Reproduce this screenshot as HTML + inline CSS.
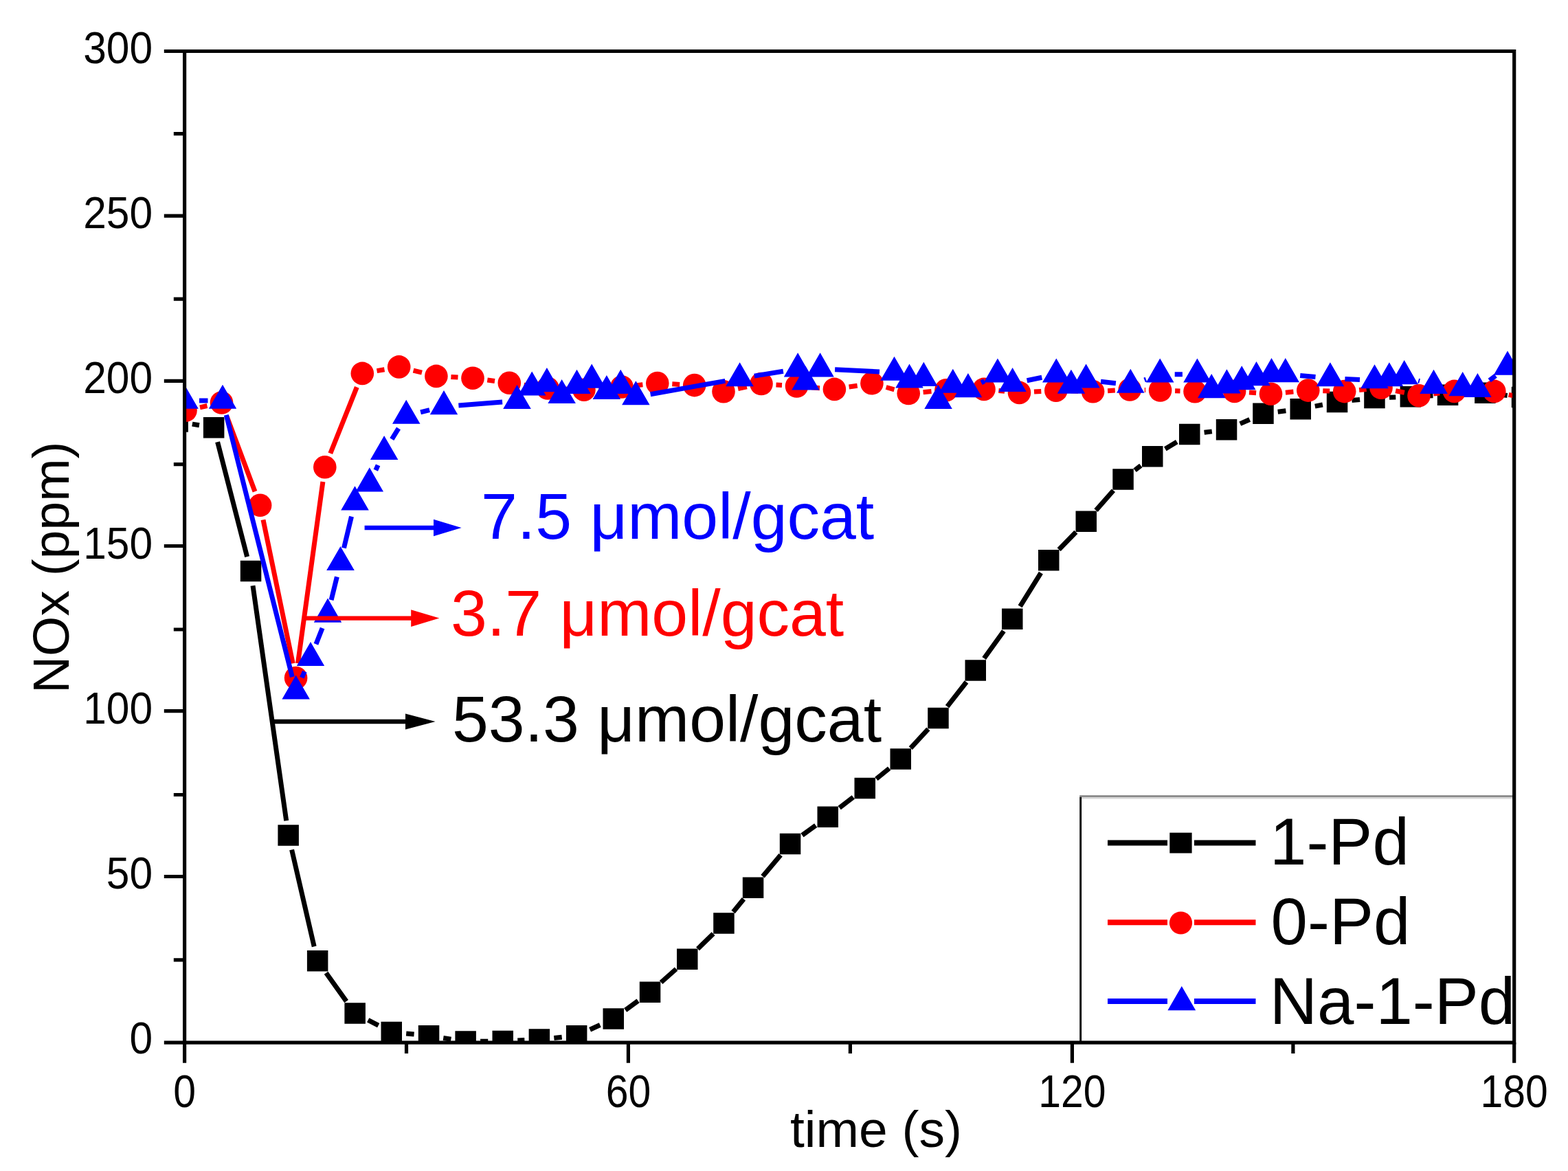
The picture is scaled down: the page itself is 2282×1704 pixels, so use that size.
<!DOCTYPE html>
<html><head><meta charset="utf-8"><title>NOx vs time</title>
<style>html,body{margin:0;padding:0;background:#fff;}body{width:2282px;height:1704px;overflow:hidden;}svg{display:block;}</style>
</head><body>
<svg width="2282" height="1704" viewBox="0 0 2282 1704">
<rect width="2282" height="1704" fill="#fff"/>
<defs><clipPath id="pc"><rect x="268.5" y="74.5" width="1935.2" height="1442.6"/></clipPath></defs>
<g clip-path="url(#pc)">
<path d="M279.8 617.1L290 618.8M316.6 643.2L359.6 810.2M368 852.3L416.7 1194.3M424.6 1236.5L457.2 1377.4M474.6 1415.8L504.1 1457.1M535.7 1484.4L550.7 1492.2M591.2 1504.1L602.6 1505.1M645.2 1510.5L656.4 1512.3M699.1 1515.3L710.3 1515.2M753.3 1514L763.4 1513.5M806.3 1510.5L817.7 1509.3M858.6 1498.2L873.3 1491.5M910.2 1469.8L928.6 1456.4M962.1 1429.5L984.1 1410M1015.5 1380.7L1038.1 1358.7M1067.1 1327L1082.4 1308.3M1110 1275.3L1136.1 1244.3M1167.5 1215.4L1187.2 1201.2M1221.7 1175.6L1241.8 1160.1M1275.4 1133.4L1294.2 1118.1M1325.3 1088.7L1350.9 1060.9M1378.6 1028.1L1406.5 992.5M1432.2 958L1460.8 918.2M1484.6 882.4L1514.9 833.6M1541.1 799.8L1565.9 774.3M1595 742.6L1620.4 713.7M1651.6 684.3L1660.3 677.4M1695.8 653.2L1712.8 643M1752.6 629.3L1763.8 627.9M1804.8 616.6L1818.7 610.5M1859.7 599.2L1871.4 597.8M1913.8 591.1L1924.9 589M1967.4 582.6L1979.1 581.4M2022 578.3L2031.3 578M2074.3 576.2L2085.5 575.7M2128.5 573.4L2139.8 572.8M2182.6 574.1L2193.7 575.5" stroke="#000" stroke-width="7" fill="none"/>
<path d="M243.4 598.2h30.5v30.5h-30.5zM295.9 607.1h30.5v30.5h-30.5zM349.8 815.8h30.5v30.5h-30.5zM404.4 1200.3h30.5v30.5h-30.5zM446.9 1383h30.5v30.5h-30.5zM501.4 1459.3h30.5v30.5h-30.5zM554.5 1486.8h30.5v30.5h-30.5zM608.8 1492h30.5v30.5h-30.5zM662.4 1500.3h30.5v30.5h-30.5zM716.5 1499.7h30.5v30.5h-30.5zM769.6 1497.3h30.5v30.5h-30.5zM823.9 1492h30.5v30.5h-30.5zM877.5 1467.2h30.5v30.5h-30.5zM930.8 1428.5h30.5v30.5h-30.5zM985 1380.5h30.5v30.5h-30.5zM1038.2 1328.3h30.5v30.5h-30.5zM1080.8 1276.5h30.5v30.5h-30.5zM1134.8 1212.7h30.5v30.5h-30.5zM1189.5 1173.5h30.5v30.5h-30.5zM1243.5 1131.8h30.5v30.5h-30.5zM1295.5 1089.2h30.5v30.5h-30.5zM1350.2 1029.8h30.5v30.5h-30.5zM1404.5 960.2h30.5v30.5h-30.5zM1458 885.5h30.5v30.5h-30.5zM1511 800h30.5v30.5h-30.5zM1565.5 743.5h30.5v30.5h-30.5zM1619.3 682.2h30.5v30.5h-30.5zM1662 649h30.5v30.5h-30.5zM1716 616.8h30.5v30.5h-30.5zM1769.8 610h30.5v30.5h-30.5zM1823.2 586.6h30.5v30.5h-30.5zM1877.5 579.9h30.5v30.5h-30.5zM1930.8 569.8h30.5v30.5h-30.5zM1985.2 563.8h30.5v30.5h-30.5zM2037.6 562h30.5v30.5h-30.5zM2091.8 559.4h30.5v30.5h-30.5zM2146.1 556.4h30.5v30.5h-30.5zM2199.8 562.8h30.5v30.5h-30.5z" fill="#000"/>
<path d="M291 592.8L301.5 590.5M330.1 606.1L371 715.2M383 756.4L426.2 965.4M433.5 965.2L469.9 701.1M480.8 659.8L519.3 563.4M548.5 539.6L559.5 537.7M601.6 539.1L614 542.2M656.4 548.5L666.5 549.1M709.3 553L720 554.5M762.6 560.2L775.7 562.1M818.5 565.9L828.4 566.3M871.3 565.6L883.6 564.6M926.4 560.8L935.4 559.8M978.3 558.8L989.2 559.4M1074.1 565.5L1086.9 562.8M1129.5 560L1138 560.5M1180.9 563.7L1193 564.7M1235.6 563L1247.7 561.2M1289.6 563.5L1301.5 566.8M1343.6 570.7L1355.5 569.6M1398.4 567.3L1410.5 566.9M1453.4 568.5L1462.1 569.3M1505 570.1L1515.3 569.5M1558.3 568.8L1569.1 569.2M1612.1 568.7L1622.8 568.1M1665.8 567.5L1667.1 567.5M1710.1 568.8L1717.5 569M1760.5 569.7L1775.1 569.5M1818 570.9L1828.1 571.7M1870.9 571.2L1882.4 570.1M1925.3 568.7L1935.2 569M1978.1 567.5L1988.6 566.4M2031.1 568.7L2043.9 571.3M2086.3 573.1L2095.2 572M2138 569.4L2153.3 569.4M2195.7 574.3L2208.1 577.1" stroke="#f00" stroke-width="7" fill="none"/>
<circle cx="270" cy="597.3" r="16.8" fill="#f00"/><circle cx="322.5" cy="586" r="16.8" fill="#f00"/><circle cx="378.6" cy="735.3" r="16.8" fill="#f00"/><circle cx="430.6" cy="986.5" r="16.8" fill="#f00"/><circle cx="472.8" cy="679.8" r="16.8" fill="#f00"/><circle cx="527.3" cy="543.4" r="16.8" fill="#f00"/><circle cx="580.7" cy="533.9" r="16.8" fill="#f00"/><circle cx="634.9" cy="547.4" r="16.8" fill="#f00"/><circle cx="688" cy="550.2" r="16.8" fill="#f00"/><circle cx="741.3" cy="557.3" r="16.8" fill="#f00"/><circle cx="797" cy="565" r="16.8" fill="#f00"/><circle cx="849.9" cy="567.2" r="16.8" fill="#f00"/><circle cx="905" cy="563" r="16.8" fill="#f00"/><circle cx="956.8" cy="557.6" r="16.8" fill="#f00"/><circle cx="1010.7" cy="560.6" r="16.8" fill="#f00"/><circle cx="1053" cy="569.8" r="16.8" fill="#f00"/><circle cx="1108" cy="558.5" r="16.8" fill="#f00"/><circle cx="1159.5" cy="562" r="16.8" fill="#f00"/><circle cx="1214.4" cy="566.4" r="16.8" fill="#f00"/><circle cx="1268.9" cy="557.8" r="16.8" fill="#f00"/><circle cx="1322.2" cy="572.5" r="16.8" fill="#f00"/><circle cx="1376.9" cy="567.8" r="16.8" fill="#f00"/><circle cx="1432" cy="566.4" r="16.8" fill="#f00"/><circle cx="1483.5" cy="571.4" r="16.8" fill="#f00"/><circle cx="1536.8" cy="568.2" r="16.8" fill="#f00"/><circle cx="1590.6" cy="569.8" r="16.8" fill="#f00"/><circle cx="1644.3" cy="567" r="16.8" fill="#f00"/><circle cx="1688.6" cy="568" r="16.8" fill="#f00"/><circle cx="1739" cy="569.8" r="16.8" fill="#f00"/><circle cx="1796.6" cy="569.4" r="16.8" fill="#f00"/><circle cx="1849.5" cy="573.2" r="16.8" fill="#f00"/><circle cx="1903.8" cy="568.1" r="16.8" fill="#f00"/><circle cx="1956.7" cy="569.6" r="16.8" fill="#f00"/><circle cx="2010" cy="564.3" r="16.8" fill="#f00"/><circle cx="2065" cy="575.7" r="16.8" fill="#f00"/><circle cx="2116.5" cy="569.4" r="16.8" fill="#f00"/><circle cx="2174.8" cy="569.4" r="16.8" fill="#f00"/><circle cx="2229" cy="582" r="16.8" fill="#f00"/>
<path d="M290 583.1L302.5 583.1M329.3 603.9L425.3 985.1M439.3 986.2L443.3 977.1M459.9 937.4L469.1 914M482.1 873.1L490.4 839.3M500.5 797.5L511.5 751.6M546.8 684.2L550.1 676.9M570.3 639.1L580 623.4M612.1 599.9L625.1 596.7M667.4 589.9L731.1 585M946.6 573.8L1055.4 554.4M1097.8 547.1L1139.9 540.2M1215.1 537.8L1280 541M1428.1 556.8L1432.7 554.5M1494.6 553.8L1516.3 549.3M1602 555.3L1623.9 557.7M1665.6 552.9L1667.9 552M1709.7 544.8L1720.9 544.8M1892.2 546.5L1914.5 548.6M1957.4 551.6L1979 552.6M2064.2 554.1L2066 554.6M2167.7 553.5L2176.7 546.8" stroke="#00f" stroke-width="7" fill="none"/>
<path d="M268.5 559.7L288.8 594.8L248.2 594.8zM324 559.7L344.2 594.8L303.8 594.8zM430.6 982.5L450.9 1017.6L410.4 1017.6zM452 934L472.2 969.1L431.8 969.1zM477 870.6L497.2 905.7L456.8 905.7zM495.5 795L515.8 830.1L475.2 830.1zM516.5 707.3L536.8 742.4L496.2 742.4zM537.8 680.3L558 715.4L517.5 715.4zM559.1 634L579.4 669.1L538.9 669.1zM591.2 581.7L611.5 616.8L571 616.8zM646 568.1L666.2 603.2L625.8 603.2zM752.5 560L772.8 595.1L732.2 595.1zM774.2 540.4L794.5 575.5L754 575.5zM795.9 535.1L816.1 570.2L775.6 570.2zM817.6 551.9L837.9 587L797.4 587zM839.5 537.8L859.8 572.9L819.2 572.9zM861.2 529.6L881.5 564.7L841 564.7zM882.9 545.9L903.1 581L862.6 581zM903.2 537.8L923.5 572.9L883 572.9zM925.4 554.2L945.6 589.3L905.1 589.3zM1076.6 527.2L1096.8 562.3L1056.3 562.3zM1161.1 513.3L1181.3 548.4L1140.8 548.4zM1172.4 532.4L1192.7 567.5L1152.2 567.5zM1193.6 513.3L1213.8 548.4L1173.3 548.4zM1301.5 518.7L1321.8 553.8L1281.2 553.8zM1323.5 529.5L1343.8 564.6L1303.2 564.6zM1344.3 526.8L1364.5 561.9L1324 561.9zM1365.6 560L1385.8 595.1L1345.3 595.1zM1386.8 536.7L1407 571.8L1366.5 571.8zM1408.9 543.1L1429.2 578.2L1388.7 578.2zM1451.9 521.4L1472.2 556.5L1431.7 556.5zM1473.6 534.9L1493.8 570L1453.3 570zM1537.3 521.4L1557.5 556.5L1517 556.5zM1558.9 537.7L1579.2 572.8L1538.7 572.8zM1580.6 529.5L1600.8 564.6L1560.3 564.6zM1645.3 536.7L1665.5 571.8L1625 571.8zM1688.2 521.4L1708.5 556.5L1668 556.5zM1742.4 521.4L1762.7 556.5L1722.2 556.5zM1763.2 544.1L1783.5 579.2L1743 579.2zM1785.4 537.3L1805.7 572.4L1765.2 572.4zM1807.2 532.2L1827.5 567.3L1787 567.3zM1828.5 526.1L1848.8 561.2L1808.2 561.2zM1850.5 521.1L1870.8 556.2L1830.2 556.2zM1870.8 521.1L1891 556.2L1850.5 556.2zM1935.9 527.2L1956.2 562.3L1915.7 562.3zM2000.5 530.2L2020.8 565.3L1980.2 565.3zM2021.9 527.2L2042.2 562.3L2001.7 562.3zM2043.7 524.1L2063.9 559.2L2023.5 559.2zM2086.5 537.8L2106.8 572.9L2066.2 572.9zM2128.7 541.1L2148.9 576.2L2108.4 576.2zM2150.4 542.9L2170.7 578L2130.2 578zM2194 510.6L2214.2 545.7L2173.8 545.7z" fill="#00f"/>
</g>
<rect x="1571.2" y="1157.3" width="632" height="2.6" fill="#808080"/>
<rect x="1574" y="1159.9" width="628" height="2.6" fill="#d6d6d6"/>
<rect x="1571.2" y="1159.9" width="2.9" height="357" fill="#000"/>
<path d="M268.6 74.5H2203.7V1517.1H268.6Z" stroke="#000" stroke-width="5.2" fill="none"/>
<path d="M238.8 74.5H268M238.8 314.2H268M238.8 554.3H268M238.8 794.5H268M238.8 1034.7H268M238.8 1275.5H268M238.8 1517.1H268M252.8 194.7H268M252.8 435.2H268M252.8 675.6H268M252.8 916H268M252.8 1156.5H268M252.8 1396.9H268M268.6 1517V1546.8M914.4 1517V1546.8M1560.4 1517V1546.8M2203.7 1517V1546.8M591.5 1517V1533M1237.4 1517V1533M1881.9 1517V1533" stroke="#000" stroke-width="5.2" fill="none"/>
<g font-family="'Liberation Sans', Arial, Helvetica, sans-serif" font-size="62" fill="#000" text-anchor="end">
<text transform="translate(222 91.8) scale(0.975 1.05)">300</text>
<text transform="translate(222 331.6) scale(0.975 1.05)">250</text>
<text transform="translate(222 572.4) scale(0.975 1.05)">200</text>
<text transform="translate(222 812.6) scale(0.975 1.05)">150</text>
<text transform="translate(222 1052.8) scale(0.975 1.05)">100</text>
<text transform="translate(222 1293.4) scale(0.975 1.05)">50</text>
<text transform="translate(222 1532.6) scale(0.975 1.05)">0</text>
</g>
<g font-family="'Liberation Sans', Arial, Helvetica, sans-serif" font-size="62" fill="#000" text-anchor="middle">
<text transform="translate(268.6 1611.2) scale(0.95 1.085)">0</text>
<text transform="translate(914.4 1611.2) scale(0.95 1.085)">60</text>
<text transform="translate(1560.4 1611.2) scale(0.95 1.085)">120</text>
<text transform="translate(2203.7 1611.2) scale(0.95 1.085)">180</text>
</g>
<text font-family="'Liberation Sans', Arial, Helvetica, sans-serif" font-size="75" fill="#000" transform="translate(99.5 1009.1) rotate(-90)">NOx (ppm)</text>
<text font-family="'Liberation Sans', Arial, Helvetica, sans-serif" font-size="75" fill="#000" x="1150" y="1669.2">time (s)</text>
<path d="M530.6 768H633" stroke="#00f" stroke-width="6.3"/><path d="M631 755.8L671.6 768L631 780.2z" fill="#00f"/>
<path d="M444 899.6H600.2" stroke="#f00" stroke-width="6.3"/><path d="M598.2 887.3L639.4 899.6L598.2 911.9z" fill="#f00"/>
<path d="M398.7 1050H592" stroke="#000" stroke-width="6.3"/><path d="M590 1038.5L633.6 1050L590 1061.5z" fill="#000"/>
<text font-family="'Liberation Sans', Arial, Helvetica, sans-serif" font-size="95" fill="#00f" x="700" y="783.5">7.5 μmol/gcat</text>
<text font-family="'Liberation Sans', Arial, Helvetica, sans-serif" font-size="95" fill="#f00" x="656" y="924.5">3.7 μmol/gcat</text>
<text font-family="'Liberation Sans', Arial, Helvetica, sans-serif" font-size="95" fill="#000" x="658" y="1079.4">53.3 μmol/gcat</text>
<path d="M1612 1226.5H1699M1738 1226.5H1827.5" stroke="#000" stroke-width="8"/>
<rect x="1702.3" y="1211.7" width="32.3" height="29.8" fill="#000"/>
<path d="M1612 1342.3H1699M1738 1342.3H1827.5" stroke="#f00" stroke-width="8"/>
<circle cx="1718.5" cy="1343" r="16.6" fill="#f00"/>
<path d="M1612 1457H1699M1738 1457H1827.5" stroke="#00f" stroke-width="8"/>
<path d="M1719.8 1435L1740.2 1470.2H1699.4Z" fill="#00f"/>
<g font-family="'Liberation Sans', Arial, Helvetica, sans-serif" font-size="96" fill="#000">
<text x="1848" y="1257.5">1-Pd</text>
<text x="1849.6" y="1374">0-Pd</text>
<text x="1847.7" y="1490">Na-1-Pd</text>
</g>
</svg>
</body></html>
